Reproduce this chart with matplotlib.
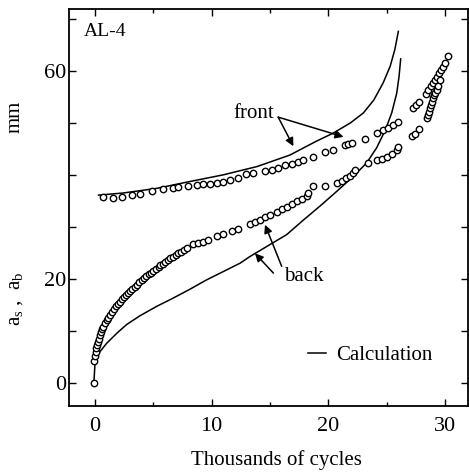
import matplotlib
matplotlib.use("Agg")
import matplotlib.pyplot as plt
from matplotlib.ticker import MultipleLocator, FixedLocator

plt.rcParams['font.family'] = ['Liberation Serif', 'DejaVu Serif']
plt.rcParams['mathtext.fontset'] = 'custom'
plt.rcParams['mathtext.rm'] = 'Liberation Serif'
plt.rcParams['mathtext.it'] = 'Liberation Serif:italic'

# ---- measured data: front crack length ----
front_x = [0.71, 1.51, 2.34, 3.14, 3.86, 4.86, 5.86, 6.66, 7.14, 7.94, 8.71, 9.29,
           9.86, 10.43, 10.94, 11.57, 12.29, 12.94, 13.57, 14.57, 15.14, 15.71,
           16.29, 16.86, 17.37, 17.86, 18.71, 19.71, 20.43, 21.43, 21.71, 22.0,
           23.14, 24.14, 24.71, 25.14, 25.57, 26.0,
           27.28, 27.5, 27.8, 28.37, 28.57, 28.77, 28.94, 29.14, 29.34, 29.51,
           29.63, 29.86, 30.0, 30.25]
front_y = [35.8, 35.7, 35.9, 36.2, 36.5, 36.9, 37.3, 37.6, 37.8, 38.0, 38.2, 38.4,
           38.4, 38.6, 38.8, 39.1, 39.5, 40.2, 40.4, 40.8, 41.1, 41.5,
           41.9, 42.2, 42.6, 43.0, 43.5, 44.5, 44.9, 45.9, 46.1, 46.3,
           47.0, 48.1, 48.7, 49.2, 49.6, 50.3,
           52.9, 53.5, 54.2, 55.7, 56.5, 57.1, 57.7, 58.4, 59.0, 59.7,
           60.2, 60.9, 61.7, 62.9]

# ---- measured data: back crack length ----
back_x = [-0.1, -0.1, 0.0, 0.05, 0.1, 0.2, 0.25, 0.35, 0.45, 0.5, 0.6, 0.7, 0.85,
          1.0, 1.1, 1.3, 1.45, 1.6, 1.8, 1.95, 2.1, 2.3, 2.5, 2.65, 2.85, 3.0,
          3.2, 3.4, 3.6, 3.8, 4.0, 4.2, 4.4, 4.6, 4.8, 5.0, 5.2, 5.45, 5.6,
          5.85, 6.0, 6.25, 6.45, 6.7, 6.9, 7.1, 7.35, 7.6, 7.86,
          8.43, 8.86, 9.29, 9.71, 10.43, 11.0, 11.71, 12.29, 13.29, 13.71, 14.14,
          14.57, 15.0, 15.57, 16.0, 16.43, 16.86, 17.29, 17.71, 18.14, 18.29,
          18.71, 19.71, 20.71, 21.14, 21.51, 21.86, 22.14, 22.29, 23.43, 24.14,
          24.57, 25.0, 25.43, 25.86, 26.0,
          27.14, 27.43, 27.8, 28.43, 28.57, 28.66, 28.71, 28.77, 28.86, 28.94,
          29.06, 29.14, 29.29, 29.43, 29.57]
back_y = [0.0, 4.2, 5.2, 6.0, 6.7, 7.3, 8.0, 8.6, 9.3, 9.9, 10.5, 10.9, 11.6,
          12.2, 12.6, 13.2, 13.8, 14.3, 14.8, 15.3, 15.6, 16.2, 16.6, 17.0, 17.4, 17.7,
          18.2, 18.6, 19.0, 19.5, 19.9, 20.3, 20.6, 21.0, 21.3, 21.6, 22.0, 22.3, 22.7,
          23.0, 23.4, 23.7, 24.1, 24.3, 24.7, 25.0, 25.3, 25.7, 26.1,
          26.8, 27.0, 27.2, 27.6, 28.3, 28.7, 29.3, 29.6, 30.6, 31.1, 31.5,
          31.9, 32.4, 33.0, 33.5, 34.0, 34.5, 35.0, 35.4, 36.1, 36.6,
          37.9, 37.9, 38.5, 39.0, 39.4, 39.8, 40.5, 41.0, 42.3, 42.9,
          43.2, 43.5, 44.1, 44.9, 45.5,
          47.5, 48.0, 49.0, 51.0, 51.6, 52.2, 52.9, 53.5, 54.2, 54.8,
          55.4, 55.8, 56.4, 57.1, 58.4]

# ---- calculation curves ----
calc_front_x = [0.3, 2.4, 5.3, 8.1, 11.0, 13.9, 16.7, 19.0, 20.4, 21.9, 23.0, 23.9,
                24.7, 25.3, 25.7, 26.0]
calc_front_y = [36.2, 36.6, 37.5, 38.8, 40.1, 41.7, 43.9, 46.6, 48.1, 50.1, 52.0, 54.5,
                57.8, 61.0, 64.2, 67.7]
calc_back_x = [-0.1, 0.0, 0.14, 0.43, 1.0, 1.86, 2.71, 3.86, 5.29, 6.71, 8.14, 9.57,
               11.0, 12.43, 13.29, 14.71, 16.43, 17.86, 19.29, 20.71, 22.14, 23.29,
               24.14, 24.86, 25.43, 25.86, 26.06, 26.2]
calc_back_y = [0.0, 3.9, 5.1, 6.1, 7.7, 9.6, 11.3, 13.0, 14.8, 16.4, 18.1, 19.9,
               21.5, 23.1, 24.4, 26.3, 28.6, 31.4, 34.1, 36.9, 39.8, 42.4,
               45.3, 48.6, 52.0, 55.8, 59.0, 62.4]

y_tick_values = [0, 10, 20, 30, 40, 50, 60, 70]
y_tick_labels = ['0', '', '20', '', '', '', '60', '']
x_tick_values = [0, 10, 20, 30]

fig = plt.figure(figsize=(4.69, 4.72), dpi=100)
ax = fig.add_axes([69/469, 66/472, 399/469, 397/472])

calc_line, = ax.plot(calc_front_x, calc_front_y, color='black', lw=1.1)
ax.plot(calc_back_x, calc_back_y, color='black', lw=1.1)
ax.plot(front_x, front_y, linestyle='none', marker='o', ms=4.6, mfc='white',
        mec='black', mew=1.0)
ax.plot(back_x, back_y, linestyle='none', marker='o', ms=4.6, mfc='white',
        mec='black', mew=1.0)

ax.set_xlim(-2.23, 31.97)
ax.set_ylim(-4.37, 72.0)

ax.xaxis.set_major_locator(FixedLocator(x_tick_values))
ax.xaxis.set_minor_locator(MultipleLocator(5))
ax.yaxis.set_major_locator(FixedLocator(y_tick_values))
ax.set_yticklabels(y_tick_labels)
ax.tick_params(which='both', direction='in', top=True, right=True, labelsize=16)
ax.tick_params(which='major', length=5, width=1.0)
ax.tick_params(which='minor', length=3, width=1.0)
ax.tick_params(axis='x', pad=8)
ax.tick_params(axis='y', pad=2)
for s in ax.spines.values():
    s.set_linewidth(1.3)

ax.set_xlabel('Thousands of cycles', fontsize=15, va='center')
ax.xaxis.set_label_coords(0.52, -0.136)
ax.text(-0.135, 0.27, r'a$_\mathregular{s}$ ,  a$_\mathregular{b}$', transform=ax.transAxes,
        rotation=90, va='center', ha='center', fontsize=15)
ax.text(-0.135, 0.728, 'mm', transform=ax.transAxes, rotation=90, va='center',
        ha='center', fontsize=15)

ax.text(0.036, 0.943, 'AL-4', transform=ax.transAxes, va='center', ha='left',
        fontsize=14)

arrow_kw = dict(arrowstyle='-|>', color='black', lw=1.1, mutation_scale=12,
                shrinkA=0, shrinkB=0)
ax.text(13.57, 51.9, 'front', ha='center', va='center', fontsize=15)
ax.annotate('', xy=(17.0, 45.6), xytext=(15.7, 51.2), arrowprops=arrow_kw)
ax.annotate('', xy=(21.3, 47.4), xytext=(15.7, 51.2), arrowprops=arrow_kw)
ax.text(17.86, 20.5, 'back', ha='center', va='center', fontsize=15)
ax.annotate('', xy=(14.57, 30.5), xytext=(16.0, 22.5), arrowprops=arrow_kw)
ax.annotate('', xy=(13.71, 25.0), xytext=(15.29, 21.2), arrowprops=arrow_kw)

ax.legend([calc_line], ['Calculation'], loc='center right', bbox_to_anchor=(0.91, 0.128),
          frameon=False, handlelength=0.9, handletextpad=0.45, borderaxespad=0,
          borderpad=0, fontsize=15)

fig.savefig('out.png', dpi=100)
